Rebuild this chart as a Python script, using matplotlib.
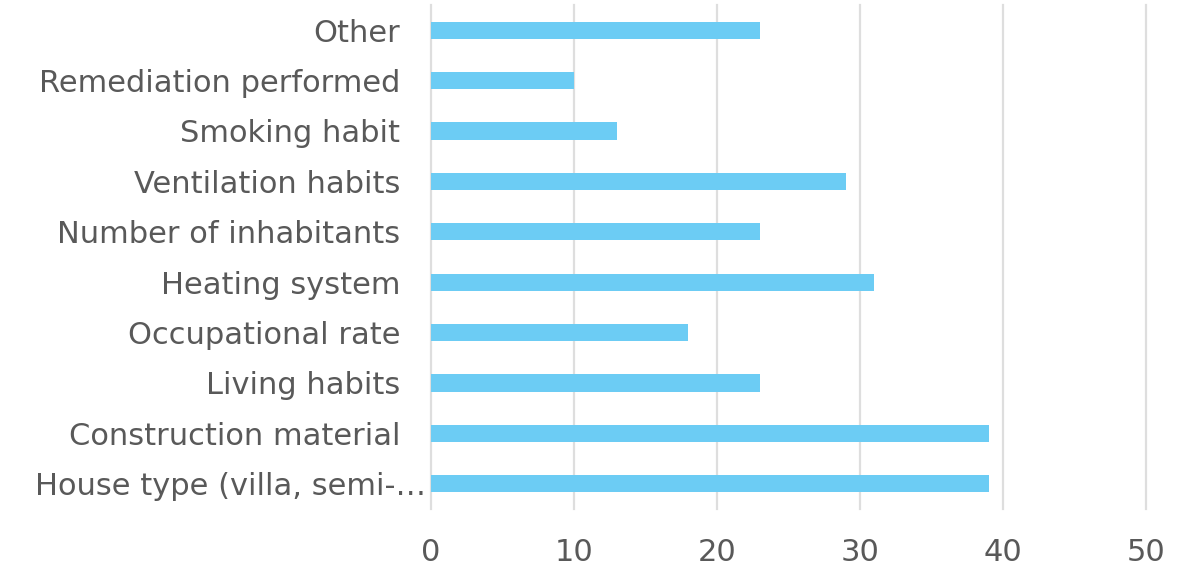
import matplotlib
matplotlib.use("Agg")
import matplotlib.pyplot as plt
from matplotlib.transforms import ScaledTranslation

categories = ["House type (villa, semi-…", "Construction material", "Living habits",
              "Occupational rate", "Heating system", "Number of inhabitants",
              "Ventilation habits", "Smoking habit", "Remediation performed", "Other"]
values = [39, 39, 23, 18, 31, 23, 29, 13, 10, 23]
xticks = [0, 10, 20, 30, 40, 50]

plt.rcParams['font.family'] = ['DejaVu Sans']
fig = plt.figure(figsize=(11.86, 5.67), dpi=100)
ax = fig.add_axes([431/1186, 1-509/567, (1146-431)/1186, (509-5)/567])
ax.barh(range(len(categories)), values, height=0.34, color='#6CCCF4', zorder=3)
ax.set_ylim(-0.5, len(categories)-0.5)
ax.set_xlim(0, 50)
ax.set_xticks(xticks)
ax.set_yticks(range(len(categories)))
ax.set_yticklabels(categories)
ax.grid(axis='x', color='#dedede', linewidth=1.6, zorder=0)
for gl in ax.get_xgridlines():
    gl.set_clip_on(False)
for s in ax.spines.values():
    s.set_visible(False)
ax.tick_params(axis='both', length=0, labelsize=22, labelcolor='#595959')
ax.tick_params(axis='x', pad=21)
ax.tick_params(axis='y', pad=22)
# truncated first label sits closer to the axis, as in the reference
lbl = ax.get_yticklabels()[0]
lbl.set_transform(lbl.get_transform() + ScaledTranslation(26/100, 0, fig.dpi_scale_trans))
fig.savefig("out.png", dpi=100)
